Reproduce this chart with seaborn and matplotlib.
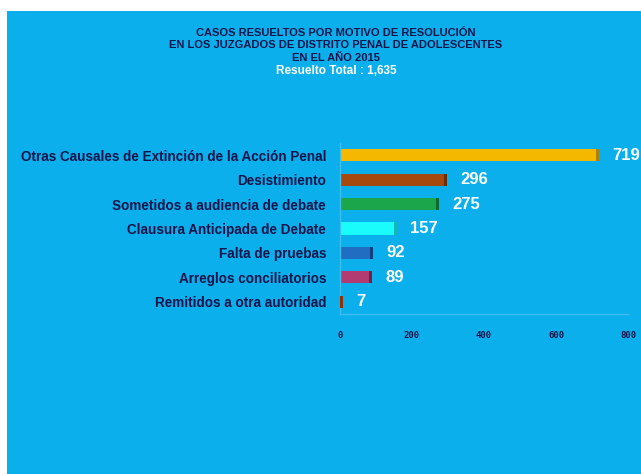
import numpy as np
import pandas as pd
import matplotlib
matplotlib.use("Agg")
import matplotlib.pyplot as plt
import seaborn as sns

# datos
motivos = [
    "Otras Causales de Extinción de la Acción Penal",
    "Desistimiento",
    "Sometidos a audiencia de debate",
    "Clausura Anticipada de Debate",
    "Falta de pruebas",
    "Arreglos conciliatorios",
    "Remitidos a otra autoridad",
]
casos = [719, 296, 275, 157, 92, 89, 7]
colores = ["#F5B800", "#A5490F", "#1BA64C", "#1AFCFC", "#1F6EC2", "#B23C72", "#E2560F"]
colores_fin = ["#B07E00", "#6E2C06", "#0E6A2E", "#12B8B8", "#123F80", "#702246", "#8E3206"]
ticks_x = [0, 200, 400, 600, 800]

fondo = "#0BAFEC"
azul_oscuro = "#14144A"

sns.set_style("white")
plt.rcParams["font.family"] = ["Liberation Sans", "DejaVu Sans"]

df = pd.DataFrame({"motivo": motivos, "casos": casos})

fig = plt.figure(figsize=(6.41, 4.74), dpi=100)
fig.patch.set_facecolor("white")
# panel azul de fondo
bg = fig.add_axes([7 / 641, 0, 1, 1 - 11 / 474], zorder=-1)
bg.axis("off")
bg.add_patch(plt.Rectangle((0, 0), 1, 1, transform=bg.transAxes, facecolor=fondo,
                           edgecolor="none"))

ax = fig.add_axes([340 / 641, 1 - 314 / 474, 288 / 641, 171 / 474], zorder=1)
ax.set_facecolor(fondo)

sns.barplot(data=df, x="casos", y="motivo", hue="motivo", palette=colores,
            legend=False, width=0.5, ax=ax, saturation=1, orient="h", linewidth=0)

# extremo oscuro de cada barra
cap = 8
ax.barh(np.arange(len(casos)), [min(cap, c) for c in casos],
        left=[c - min(cap, c) for c in casos], height=0.5, color=colores_fin,
        linewidth=0, zorder=3)

for i, c in enumerate(casos):
    ax.text(c + 38, i, f"{c}", color="white", fontsize=12, fontweight="bold",
            va="center", ha="left", clip_on=False)

ax.set_xlim(0, 800)
ax.set_ylim(6.5, -0.5)
ax.set_xticks(ticks_x)
ax.set_xticklabels([str(t) for t in ticks_x], fontsize=6.5, fontweight="bold",
                   color=azul_oscuro, family="DejaVu Sans Mono")
ax.tick_params(axis="x", length=0, pad=12)
ax.tick_params(axis="y", length=0, pad=10)
for lbl in ax.get_yticklabels():
    lbl.set_fontsize(9.75)
    lbl.set_fontweight("bold")
    lbl.set_color(azul_oscuro)
ax.set_xlabel("")
ax.set_ylabel("")
for s in ["top", "right"]:
    ax.spines[s].set_visible(False)
for s in ["left", "bottom"]:
    ax.spines[s].set_color("#3FBDEE")
    ax.spines[s].set_linewidth(1)

titulo = ("CASOS RESUELTOS POR MOTIVO DE RESOLUCIÓN\n"
          "EN LOS JUZGADOS DE DISTRITO PENAL DE ADOLESCENTES\n"
          "EN EL AÑO 2015")
fig.text(336 / 641, 1 - 28 / 474, titulo, ha="center", va="top", fontsize=8,
         fontweight="bold", color=azul_oscuro, linespacing=1.3)
fig.text(336 / 641, 1 - 71 / 474, "Resuelto Total : 1,635", ha="center", va="center",
         fontsize=8.5, fontweight="bold", color="white")

fig.savefig("out.png", dpi=100, facecolor=fig.get_facecolor())
